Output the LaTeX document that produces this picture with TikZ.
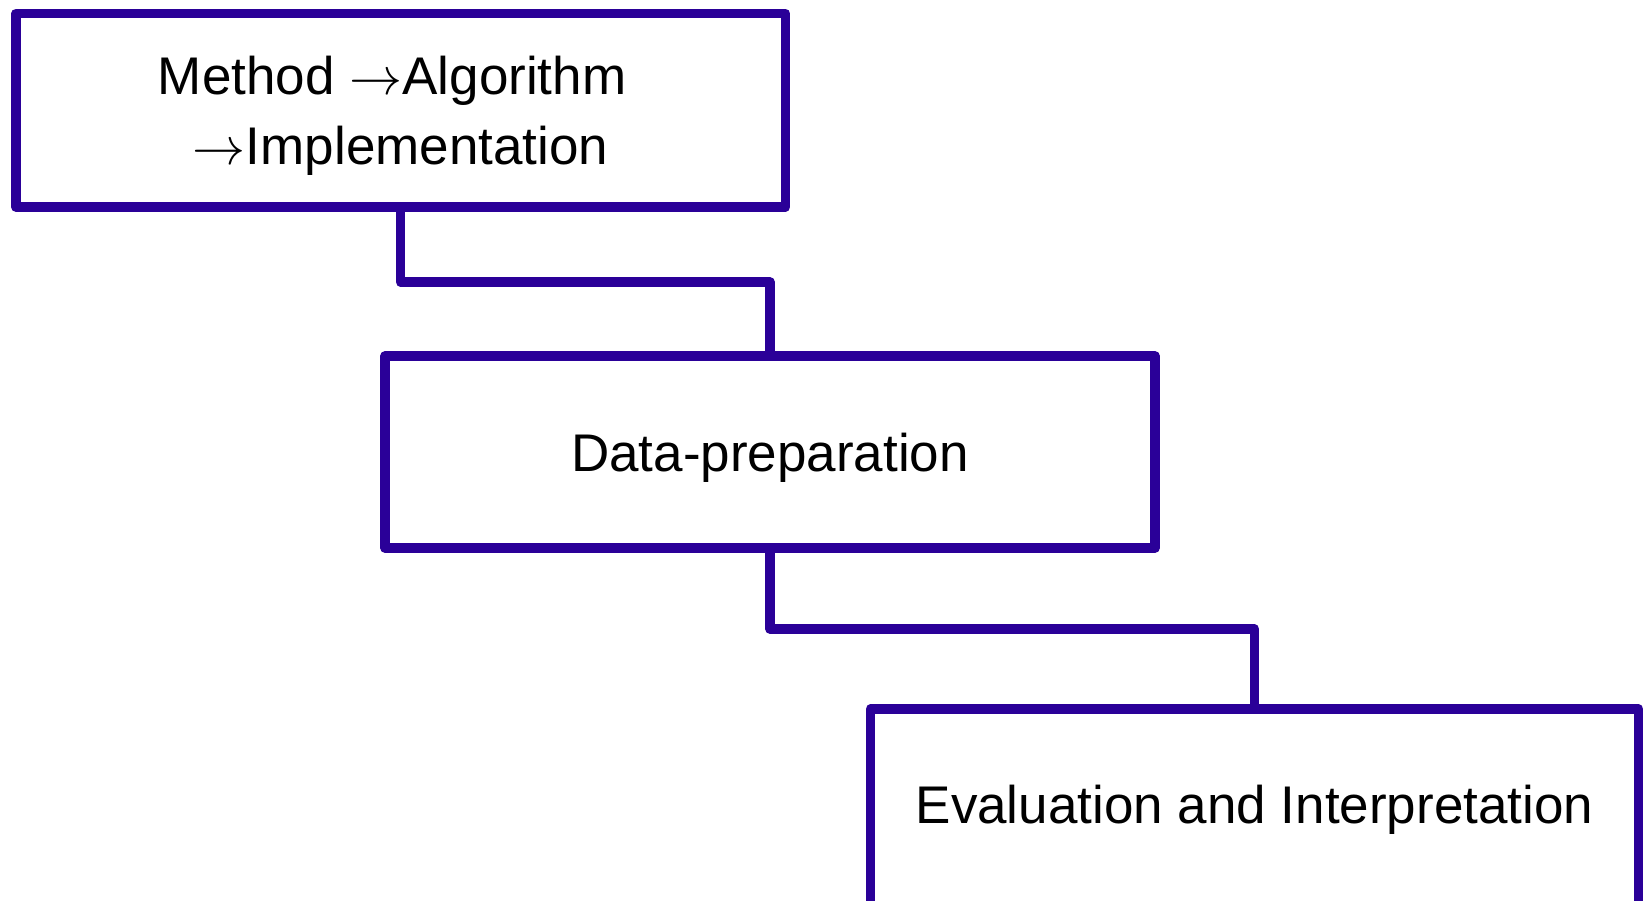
\RequirePackage{fix-cm}
\documentclass[tikz,border=0pt]{standalone}
\usepackage{fontspec}
\setmainfont{Liberation Sans}
\definecolor{boxblue}{RGB}{42,0,152}
\begin{document}
\begin{tikzpicture}[x=1pt,y=-1pt,
  stagebox/.style={draw=boxblue, line width=9.5pt, line join=round, rectangle,
    inner sep=0pt, outer sep=0pt, align=center, text depth=0pt,
    font=\fontsize{53}{70}\selectfont},
  conn/.style={draw=boxblue, line width=9.5pt, line join=round, line cap=round}]
\useasboundingbox (0,0) rectangle (1645,900);
\node[stagebox, minimum width=769.7pt, minimum height=193.3pt] (b1) at (400.6,110.3)
  {Method $\rightarrow$Algorithm\hspace*{17pt}\\$\rightarrow$Implementation};
\node[stagebox, minimum width=770pt, minimum height=192pt] (b2) at (770,452)
  {Data-preparation};
\node[stagebox, minimum width=768pt, minimum height=197pt, text depth=7pt] (b3) at (1254.5,807.5)
  {Evaluation and Interpretation};
\coordinate (j1) at (0,282);
\coordinate (j2) at (0,629);
\draw[conn] (b1.south) -- (b1.south |- j1) -| (b2.north);
\draw[conn] (b2.south) -- (b2.south |- j2) -| (b3.north);
\end{tikzpicture}
\end{document}
